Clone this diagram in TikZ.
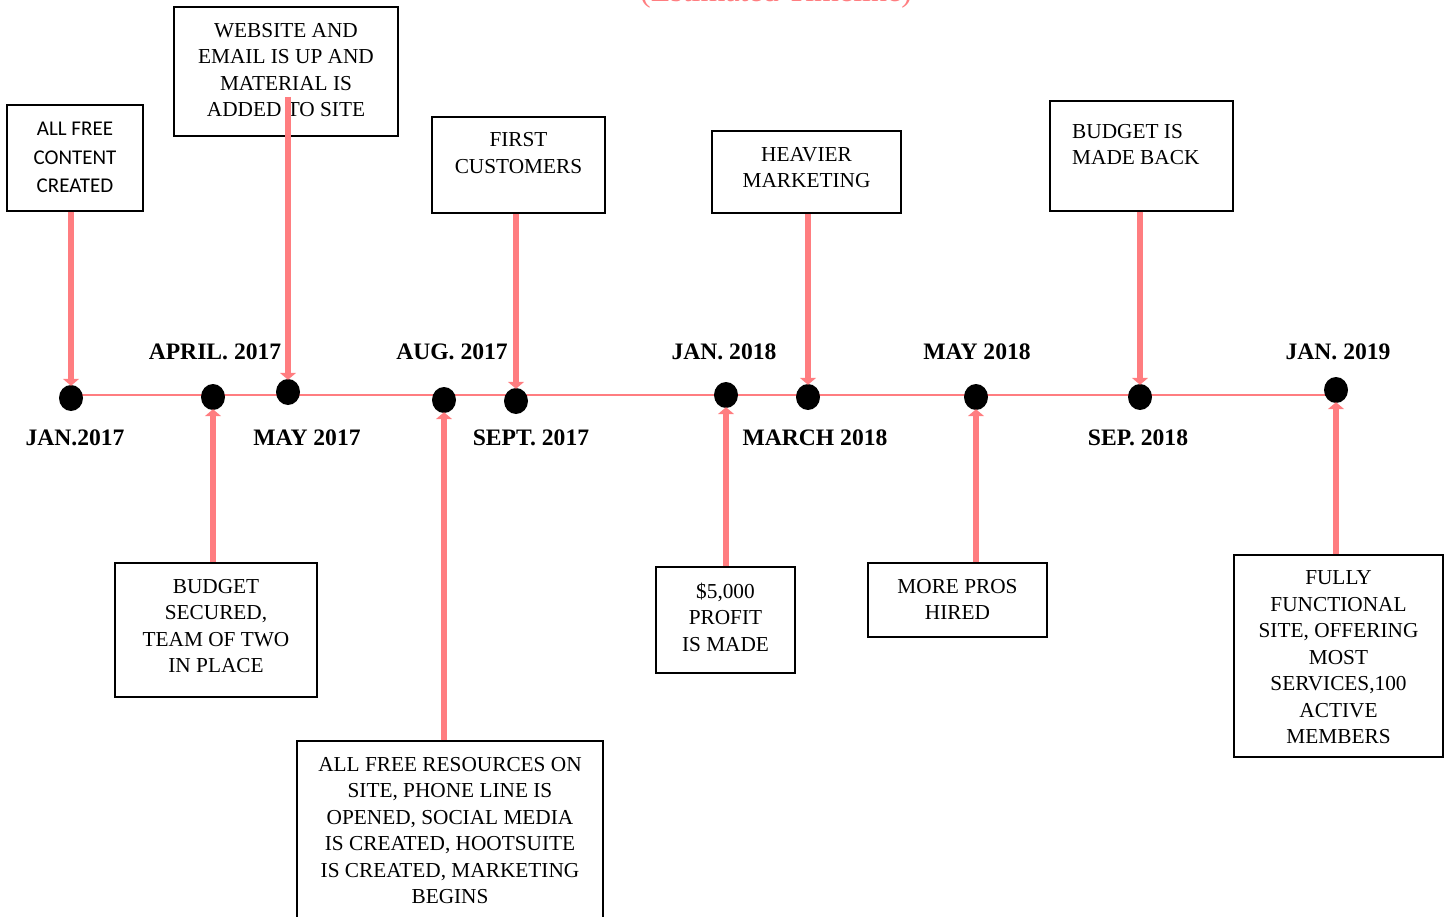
\documentclass[tikz,border=0pt]{standalone}
\usepackage{fontspec}
\setmainfont{Liberation Serif}
\newfontfamily\sansf{Carlito}
\usetikzlibrary{arrows.meta,shapes.geometric}
\definecolor{pinkc}{RGB}{255,125,128}
\tikzset{
  x=1pt, y=-1pt,
  box/.style={draw=black, line width=2pt, inner sep=0pt, minimum width=#1},
  txt/.style={align=center, inner sep=0pt, font=\fontsize{21.3}{26.5}\selectfont},
  date/.style={inner sep=0pt, font=\fontsize{23.6}{26}\selectfont\bfseries},
  dot/.style={ellipse, fill=black, inner sep=0pt, minimum width=24pt, minimum height=26pt},
  arr/.style={draw=pinkc, line width=6.5pt, -{Triangle[width=16pt,length=7pt]}},
  tl/.style={draw=pinkc, line width=2pt}
}
\begin{document}
\begin{tikzpicture}
\useasboundingbox (0,0) rectangle (1447,917);
% title (cut off at top)
\node[anchor=base, inner sep=0pt, text=pinkc, font=\fontsize{32}{36}\selectfont] (title) at (776,2) {(Estimated Timeline)};
% timeline
\coordinate (ls) at (71,395);
\coordinate (le) at (1336,395);
\draw[tl] (ls) -- (le);
% dots
\node[dot] (d1) at (71,398) {};
\node[dot] (d2) at (213,397) {};
\node[dot] (d3) at (288,392) {};
\node[dot] (d4) at (444,400) {};
\node[dot] (d5) at (516,401) {};
\node[dot] (d6) at (726,395) {};
\node[dot] (d7) at (808,397) {};
\node[dot] (d8) at (976,397) {};
\node[dot] (d9) at (1140,397) {};
\node[dot] (d10) at (1336,390) {};
% date labels
\node[date] (l1) at (75,438) {JAN.2017};
\node[date] (l2) at (215,352) {APRIL. 2017};
\node[date] (l3) at (307,438) {MAY 2017};
\node[date] (l4) at (452,352) {AUG. 2017};
\node[date] (l5) at (531,438) {SEPT. 2017};
\node[date] (l6) at (724,352) {JAN. 2018};
\node[date] (l7) at (815,438) {MARCH 2018};
\node[date] (l8) at (977,352) {MAY 2018};
\node[date] (l9) at (1138,438) {SEP. 2018};
\node[date] (l10) at (1338,352) {JAN. 2019};
% boxes (top)
\node[box=136pt, minimum height=106pt] (b1) at (75,158) {};
\node[txt, font=\fontsize{21}{28.5}\selectfont\sansf] (t1) at (75,157.5) {ALL FREE\\CONTENT\\CREATED};
\node[box=224pt, minimum height=129pt] (b2) at (286,71.5) {};
\node[txt] (t2) at (286,70) {WEBSITE AND\\EMAIL IS UP AND\\MATERIAL IS\\ADDED TO SITE};
\node[box=173pt, minimum height=96pt] (b3) at (518.5,165) {};
\node[txt] (t3) at (518.5,153) {FIRST\\CUSTOMERS};
\node[box=189pt, minimum height=82pt] (b4) at (806.5,172) {};
\node[txt] (t4) at (806.5,167.5) {HEAVIER\\MARKETING};
\node[box=183pt, minimum height=110pt] (b5) at (1141.5,156) {};
\node[txt, align=left, anchor=west] (t5) at (1072,144.5) {BUDGET IS\\MADE BACK};
% boxes (bottom)
\node[box=202pt, minimum height=134pt] (b6) at (216,630) {};
\node[txt] (t6) at (216,626) {BUDGET\\SECURED,\\TEAM OF TWO\\IN PLACE};
\node[box=306pt, minimum height=190pt] (b7) at (450,836) {};
\node[txt] (t7) at (450,830.5) {ALL FREE RESOURCES ON\\SITE, PHONE LINE IS\\OPENED, SOCIAL MEDIA\\IS CREATED, HOOTSUITE\\IS CREATED, MARKETING\\BEGINS};
\node[box=139pt, minimum height=106pt] (b8) at (725.5,620) {};
\node[txt] (t8) at (725.5,617) {\$5,000\\PROFIT\\IS MADE};
\node[box=179pt, minimum height=74pt] (b9) at (957.5,600) {};
\node[txt] (t9) at (957.5,599.5) {MORE PROS\\HIRED};
\node[box=209pt, minimum height=202pt] (b10) at (1338.5,656) {};
\node[txt] (t10) at (1338.5,657.5) {FULLY\\FUNCTIONAL\\SITE, OFFERING\\MOST\\SERVICES,100\\ACTIVE\\MEMBERS};
% arrows down
\coordinate (c2) at (288,97);
\draw[arr] (d1.north |- b1.south) -- ([yshift=-1pt]d1.north);
\draw[arr] (c2) -- ([yshift=-1pt]d3.north);
\draw[arr] (d5.north |- b3.south) -- ([yshift=-1pt]d5.north);
\draw[arr] (d7.north |- b4.south) -- ([yshift=-1pt]d7.north);
\draw[arr] (d9.north |- b5.south) -- ([yshift=-1pt]d9.north);
% arrows up
\draw[arr] (d2.south |- b6.north) -- ([yshift=1pt]d2.south);
\draw[arr] (d4.south |- b7.north) -- ([yshift=1pt]d4.south);
\draw[arr] (d6.south |- b8.north) -- ([yshift=1pt]d6.south);
\draw[arr] (d8.south |- b9.north) -- ([yshift=1pt]d8.south);
\draw[arr] (d10.south |- b10.north) -- ([yshift=1pt]d10.south);
\end{tikzpicture}
\end{document}
